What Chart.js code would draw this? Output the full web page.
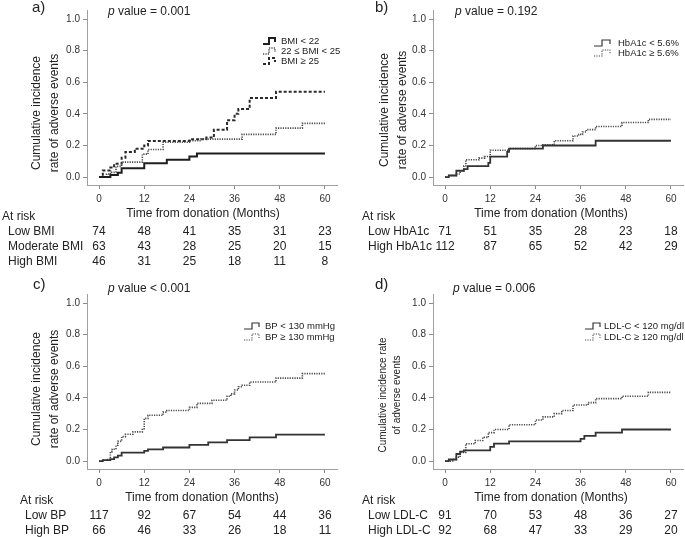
<!DOCTYPE html>
<html><head><meta charset="utf-8">
<script src="https://cdn.jsdelivr.net/npm/chart.js@4/dist/chart.umd.min.js"></script>
<style>
html,body{margin:0;padding:0;background:#fff;}
#wrap{position:relative;width:685px;height:537px;overflow:hidden;background:#fff;}
#wrap canvas{position:absolute;left:0;top:0;}
</style></head><body>
<div id="wrap">
<canvas id="ca" width="685" height="537"></canvas>
<canvas id="cb" width="685" height="537"></canvas>
<canvas id="cc" width="685" height="537"></canvas>
<canvas id="cd" width="685" height="537"></canvas>
</div>
<script>
// ---- tick labels ----
const monthTicks = [0, 12, 24, 36, 48, 60];
const yTicks = [0, 0.2, 0.4, 0.6, 0.8, 1.0];

// ---- a) BMI : [month, cumulative incidence] ----
const bmiLow = [[0,0],[3,0.014],[5,0.028],[6,0.056],[12,0.087],[18,0.11],[24,0.13],[26,0.15],[60,0.15]];
const bmiModerate = [[0,0],[2,0.02],[3,0.03],[4.5,0.068],[6,0.095],[11.5,0.145],[13,0.175],[17,0.22],[24,0.23],[27,0.24],[38,0.27],[47,0.31],[54,0.34],[60,0.34]];
const bmiHigh = [[0,0],[1,0.042],[3,0.06],[4,0.085],[6,0.123],[7,0.159],[9.5,0.18],[12,0.2],[13,0.229],[24,0.24],[28.5,0.25],[30.5,0.3],[34,0.36],[36,0.4],[37,0.43],[40,0.5],[47,0.54],[60,0.54]];
const riskLowBMI = [74, 48, 41, 35, 31, 23];
const riskModerateBMI = [63, 43, 28, 25, 20, 15];
const riskHighBMI = [46, 31, 25, 18, 11, 8];

// ---- b) HbA1c ----
const hbaLow = [[0,0],[1,0.01],[3,0.04],[5,0.05],[6,0.07],[11.5,0.09],[12,0.13],[16.5,0.16],[17,0.18],[26,0.2],[40,0.23],[60,0.23]];
const hbaHigh = [[0,0],[1,0.01],[3,0.02],[4,0.04],[5,0.07],[5.5,0.11],[9,0.12],[10.5,0.13],[12,0.17],[17,0.18],[24,0.2],[26,0.205],[29,0.23],[34,0.26],[35.5,0.27],[36.5,0.285],[37.5,0.3],[40,0.32],[47,0.345],[54,0.365],[60,0.365]];
const riskLowHbA1c = [71, 51, 35, 28, 23, 18];
const riskHighHbA1c = [112, 87, 65, 52, 42, 29];

// ---- c) BP ----
const bpLow = [[0,0],[1,0.006],[3,0.013],[4,0.023],[5,0.035],[6,0.053],[12,0.065],[13,0.074],[17,0.086],[24,0.102],[29,0.118],[34,0.133],[40,0.15],[47,0.167],[60,0.167]];
const bpHigh = [[0,0],[1,0.005],[2,0.01],[3,0.06],[3.5,0.075],[4.5,0.1],[5,0.125],[6,0.155],[7,0.17],[9,0.185],[11.5,0.205],[12,0.27],[13,0.29],[17,0.31],[18,0.32],[24,0.34],[26,0.365],[30,0.385],[34,0.41],[35,0.425],[36,0.45],[37,0.47],[38,0.48],[40,0.5],[47,0.525],[54,0.553],[60,0.553]];
const riskLowBP = [117, 92, 67, 54, 44, 36];
const riskHighBP = [66, 46, 33, 26, 18, 11];

// ---- d) LDL-C ----
const ldlLow = [[0,0],[1,0.01],[3,0.045],[4,0.06],[5,0.068],[12,0.09],[13,0.11],[17,0.125],[36,0.14],[37,0.16],[40,0.18],[47,0.2],[60,0.2]];
const ldlHigh = [[0,0],[2,0.01],[3,0.025],[4,0.055],[5.5,0.11],[8,0.13],[10,0.15],[11.5,0.18],[13,0.2],[17,0.23],[24,0.26],[26,0.28],[29,0.3],[31,0.32],[34,0.355],[38,0.37],[40,0.395],[47,0.41],[54,0.435],[60,0.435]];
const riskLowLDL = [91, 70, 53, 48, 36, 27];
const riskHighLDL = [92, 68, 47, 33, 29, 20];

const FONT = '"Liberation Sans", Arial, Helvetica, sans-serif';
const W = 685, H = 537;

const SOLID = { color: '#1e1e1e', width: 2, dash: [] };
const DOTTED = { color: '#4a4a4a', width: 1.6, dash: [1.2, 1.2] };
const DASHED = { color: '#2a2a2a', width: 2, dash: [3, 2] };
const SOLID2 = { color: '#333', width: 1.8, dash: [] };

const panels = [
  { id: 'ca', left: 87, right: 337, top: 10, bottom: 185,
    tag: 'a)', tagX: 32, tagY: 8, pX: 108, pY: 12, pText: ' value = 0.001',
    series: [
      { label: 'BMI < 22', data: bmiLow, style: SOLID },
      { label: '22 \u2264 BMI < 25', data: bmiModerate, style: DOTTED },
      { label: 'BMI \u2265 25', data: bmiHigh, style: DASHED }
    ],
    legX: 263, legW: 12, legLW: 1, legTX: 281, legY: 41, legStep: 10, legFont: 9.5,
    yTitle: ['Cumulative incidence', 'rate of adverse events'], yTitleX: 37, yTitleStep: 18, yTitleY: 113, yTitleFont: 12,
    xTitleX: 203, xTitleY: 213.5,
    atRiskX: 2, atRiskY: 217, rowX: 8, rowY: 231.5, rowStep: 15,
    rows: [['Low BMI', riskLowBMI], ['Moderate BMI', riskModerateBMI], ['High BMI', riskHighBMI]] },
  { id: 'cb', left: 433, right: 683, top: 10, bottom: 185,
    tag: 'b)', tagX: 375, tagY: 8, pX: 455, pY: 12, pText: ' value = 0.192',
    series: [
      { label: 'HbA1c < 5.6%', data: hbaLow, style: SOLID2 },
      { label: 'HbA1c \u2265 5.6%', data: hbaHigh, style: DOTTED }
    ],
    legX: 594, legW: 16, legLW: 0.65, legTX: 618, legY: 43, legStep: 10, legFont: 9.5,
    yTitle: ['Cumulative incidence', 'rate of adverse events'], yTitleX: 385, yTitleStep: 18, yTitleY: 110, yTitleFont: 12,
    xTitleX: 551, xTitleY: 213.5,
    atRiskX: 362, atRiskY: 217, rowX: 368, rowY: 231.5, rowStep: 15,
    rows: [['Low HbA1c', riskLowHbA1c], ['High HbA1c', riskHighHbA1c]] },
  { id: 'cc', left: 87, right: 337, top: 294, bottom: 469,
    tag: 'c)', tagX: 33, tagY: 285, pX: 108, pY: 289, pText: ' value < 0.001',
    series: [
      { label: 'BP < 130 mmHg', data: bpLow, style: SOLID2 },
      { label: 'BP \u2265 130 mmHg', data: bpHigh, style: DOTTED }
    ],
    legX: 244, legW: 15, legLW: 0.65, legTX: 265, legY: 326, legStep: 11, legFont: 9.5,
    yTitle: ['Cumulative incidence', 'rate of adverse events'], yTitleX: 37, yTitleStep: 18, yTitleY: 389, yTitleFont: 12,
    xTitleX: 202, xTitleY: 497.5,
    atRiskX: 20, atRiskY: 501, rowX: 25, rowY: 515.5, rowStep: 15,
    rows: [['Low BP', riskLowBP], ['High BP', riskHighBP]] },
  { id: 'cd', left: 433, right: 683, top: 294, bottom: 469,
    tag: 'd)', tagX: 375, tagY: 285, pX: 453, pY: 289, pText: ' value = 0.006',
    series: [
      { label: 'LDL-C < 120 mg/dl', data: ldlLow, style: SOLID2 },
      { label: 'LDL-C \u2265 120 mg/dl', data: ldlHigh, style: DOTTED }
    ],
    legX: 585, legW: 15, legLW: 0.65, legTX: 604, legY: 326, legStep: 11, legFont: 9.5,
    yTitle: ['Cumulative incidence rate', 'of adverse events'], yTitleX: 383, yTitleStep: 14, yTitleY: 395, yTitleFont: 10,
    xTitleX: 551, xTitleY: 497.5,
    atRiskX: 362, atRiskY: 501, rowX: 368, rowY: 515.5, rowStep: 15,
    rows: [['Low LDL-C', riskLowLDL], ['High LDL-C', riskHighLDL]] }
];

function drawGlyph(ctx, x0, y, w, lwScale, style) {
  ctx.save();
  ctx.strokeStyle = style.color;
  ctx.lineWidth = Math.max(1, style.width * lwScale);
  ctx.setLineDash(style.dash);
  const m = Math.round(w * 0.5);
  ctx.beginPath();
  ctx.moveTo(x0, y + 3);
  ctx.lineTo(x0 + m, y + 3);
  ctx.lineTo(x0 + m, y - 3);
  ctx.lineTo(x0 + w, y - 3);
  ctx.lineTo(x0 + w, y + 1);
  ctx.stroke();
  ctx.restore();
}

function annot(p) {
  return {
    id: 'annot_' + p.id,
    afterDraw(chart) {
      const ctx = chart.ctx;
      const xs = chart.scales.x;
      ctx.save();
      ctx.fillStyle = '#222';
      ctx.textBaseline = 'middle';
      ctx.textAlign = 'left';
      ctx.font = '15px ' + FONT;
      ctx.fillText(p.tag, p.tagX, p.tagY);
      ctx.font = 'italic 12px ' + FONT;
      ctx.fillText('p', p.pX, p.pY);
      const pw = ctx.measureText('p').width;
      ctx.font = '12px ' + FONT;
      ctx.fillText(p.pText, p.pX + pw, p.pY);
      ctx.font = p.legFont + 'px ' + FONT;
      p.series.forEach((s, i) => {
        const y = p.legY + i * p.legStep;
        drawGlyph(ctx, p.legX, y, p.legW, p.legLW, s.style);
        ctx.fillStyle = '#222';
        ctx.fillText(s.label, p.legTX, y);
      });
      ctx.save();
      ctx.font = p.yTitleFont + 'px ' + FONT;
      ctx.textAlign = 'center';
      p.yTitle.forEach((t, i) => {
        ctx.save();
        ctx.translate(p.yTitleX + i * p.yTitleStep, p.yTitleY);
        ctx.rotate(-Math.PI / 2);
        ctx.fillText(t, 0, 0);
        ctx.restore();
      });
      ctx.restore();
      ctx.font = '12px ' + FONT;
      ctx.textAlign = 'center';
      ctx.fillText('Time from donation (Months)', p.xTitleX, p.xTitleY);
      ctx.textAlign = 'left';
      ctx.fillText('At risk', p.atRiskX, p.atRiskY);
      p.rows.forEach((r, i) => {
        const y = p.rowY + i * p.rowStep;
        ctx.textAlign = 'left';
        ctx.fillText(r[0], p.rowX, y);
        ctx.textAlign = 'center';
        r[1].forEach((v, j) => {
          ctx.fillText(String(v), xs.getPixelForValue(monthTicks[j]), y);
        });
      });
      ctx.restore();
    }
  };
}

panels.forEach(p => {
  const xAxisH = 30;
  new Chart(document.getElementById(p.id), {
    type: 'line',
    data: {
      datasets: p.series.map(s => ({
        label: s.label,
        data: s.data.map(d => ({ x: d[0], y: d[1] })),
        stepped: 'before',
        borderColor: s.style.color,
        borderWidth: s.style.width,
        borderDash: s.style.dash,
        pointRadius: 0,
        fill: false,
        tension: 0
      }))
    },
    options: {
      responsive: false,
      animation: false,
      devicePixelRatio: 1,
      layout: { padding: { left: p.left - 87, top: p.top, right: W - p.right, bottom: H - p.bottom - xAxisH } },
      plugins: { legend: { display: false }, tooltip: { enabled: false }, title: { display: false } },
      scales: {
        x: {
          type: 'linear', min: -3.2, max: 63.2,
          afterBuildTicks: s => { s.ticks = monthTicks.map(v => ({ value: v })); },
          afterFit: s => { s.height = xAxisH; },
          grid: { drawOnChartArea: false, drawTicks: true, tickLength: 4, color: '#8c8c8c' },
          border: { color: '#a0a0a0', width: 1 },
          ticks: { font: { family: FONT, size: 10 }, color: '#333', padding: 4, maxRotation: 0, autoSkip: false }
        },
        y: {
          type: 'linear', min: -0.05, max: 1.057,
          afterBuildTicks: s => { s.ticks = yTicks.map(v => ({ value: v })); },
          afterFit: s => { s.width = 87; },
          grid: { drawOnChartArea: false, drawTicks: true, tickLength: 4, color: '#8c8c8c' },
          border: { color: '#a0a0a0', width: 1 },
          ticks: { font: { family: FONT, size: 10 }, color: '#333', padding: 3, callback: v => Number(v).toFixed(1) }
        }
      }
    },
    plugins: [annot(p)]
  });
});
</script>
</body></html>
